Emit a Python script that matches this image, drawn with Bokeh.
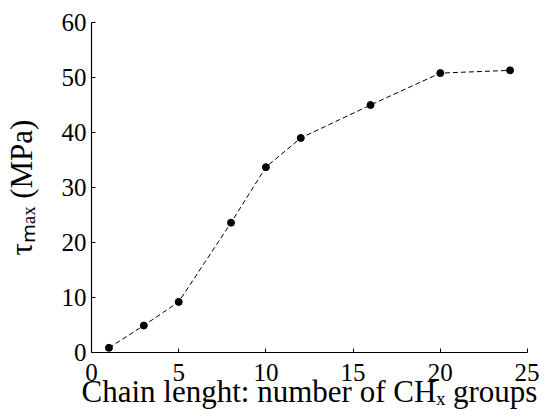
from bokeh.plotting import figure
from bokeh.models import Range1d, FixedTicker
from bokeh.embed import file_html
from bokeh.resources import INLINE

# ---- data ----
chain_length = [1, 3, 5, 8, 10, 12, 16, 20, 24]
tau_max = [0.85, 4.9, 9.2, 23.6, 33.7, 39.0, 45.0, 50.8, 51.3]
x_ticks = [0, 5, 10, 15, 20, 25]
y_ticks = [0, 10, 20, 30, 40, 50, 60]
x_label = "Chain lenght: number of CH\u2093 groups"
y_label = "\u03c4\u2098\u2090\u2093 (MPa)"

# ---- layout ----
W, H = 539, 411
FONT = "Liberation Serif"

p = figure(width=W, height=H, output_backend="svg", toolbar_location=None,
           x_range=Range1d(0, 25), y_range=Range1d(0, 60),
           min_border_left=88, min_border_top=22, min_border_right=12, min_border_bottom=58)
p.outline_line_color = None
p.xgrid.visible = False
p.ygrid.visible = False
p.background_fill_color = "white"
p.border_fill_color = "white"

for ax, ticks in ((p.xaxis[0], x_ticks), (p.yaxis[0], y_ticks)):
    ax.ticker = FixedTicker(ticks=ticks)
    ax.major_tick_in = 4
    ax.major_tick_out = 0
    ax.minor_tick_line_color = None
    ax.axis_line_color = "black"
    ax.major_tick_line_color = "black"
    ax.axis_line_width = 1.2
    ax.major_label_text_font = FONT
    ax.major_label_text_font_size = "25px"
    ax.major_label_text_color = "black"
    ax.axis_label_text_font = FONT
    ax.axis_label_text_font_style = "normal"
    ax.axis_label_text_color = "black"

p.xaxis.major_label_standoff = 11
p.yaxis.major_label_standoff = 5
p.xaxis.axis_label = x_label
p.xaxis.axis_label_text_font_size = "31px"
p.xaxis.axis_label_standoff = -10
p.yaxis.axis_label = y_label
p.yaxis.axis_label_text_font_size = "31px"
p.yaxis.axis_label_standoff = 20

p.line(chain_length, tau_max, line_color="black", line_width=1, line_dash="5 3")
p.scatter(chain_length, tau_max, marker="circle", size=7, fill_color="black", line_color="black")

open("out.html", "w").write(file_html(p, INLINE))
